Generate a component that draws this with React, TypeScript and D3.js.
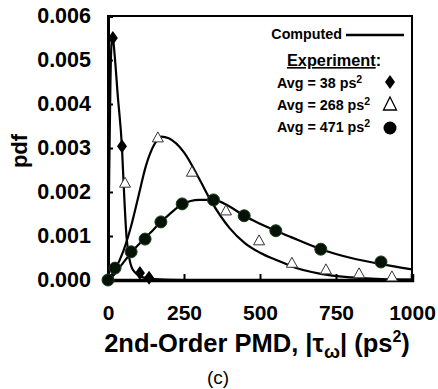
import React, { useEffect, useRef } from 'react'
import * as d3 from 'd3'

// computed curves
const curve38X = [0, 4, 8, 12, 16, 22, 32, 46, 52, 62, 82, 115, 150, 250, 1000]
const curve38Y = [0, 0.0024, 0.0045, 0.0054, 0.0055, 0.0051, 0.0042, 0.003, 0.0021, 0.0009, 0.00023, 0.00006, 0.00002, 0, 0]

const curve268X = [0, 25, 50, 75, 100, 125, 150, 175, 200, 250, 300, 337, 400, 450, 500, 566, 600, 700, 800, 900, 1000]
const curve268Y = [0, 0.00026, 0.00065, 0.0012, 0.0019, 0.0026, 0.00305, 0.00326, 0.00322, 0.0029, 0.0023, 0.00182, 0.00118, 0.00084, 0.00062, 0.00042, 0.00032, 0.00014, 0.00006, 0.00002, 0.00001]

const curve471X = [0, 20, 40, 76, 100, 122, 150, 174, 200, 244, 300, 347, 400, 448, 500, 552, 600, 700, 800, 898, 1000]
const curve471Y = [0, 0.00012, 0.0003, 0.00062, 0.0008, 0.00095, 0.00115, 0.00132, 0.00148, 0.00172, 0.00182, 0.00182, 0.00167, 0.00146, 0.00128, 0.00112, 0.00098, 0.0007, 0.0005, 0.00036, 0.00024]

// experiment points
const exp38X = [16, 46, 105, 135]
const exp38Y = [0.0055, 0.00304, 0.00016, 0.00005]

const exp268X = [56, 164, 276, 388, 497, 605, 717, 826, 934]
const exp268Y = [0.0022, 0.00323, 0.00245, 0.00157, 0.00089, 0.00038, 0.00023, 0.00014, 0.00007]

const exp471X = [0, 23, 76, 122, 174, 244, 347, 448, 552, 700, 898]
const exp471Y = [0, 0.00027, 0.00064, 0.00093, 0.00132, 0.00173, 0.00182, 0.00146, 0.00112, 0.0007, 0.00041]

const xTicks = [0, 250, 500, 750, 1000]
const yTicks = [0, 0.001, 0.002, 0.003, 0.004, 0.005, 0.006]
const legendAvgs = ['38', '268', '471']

const FONT = 'Liberation Sans, Arial, sans-serif'

const zip = (xs: number[], ys: number[]) => xs.map((x, i) => [x, ys[i]] as [number, number])

const Chart = () => {
  const svgRef = useRef<SVGSVGElement>(null)

  useEffect(() => {
    const svg = d3.select(svgRef.current)
    svg.selectAll('*').remove()

    const x = d3.scaleLinear().domain([0, 1000]).range([108, 412])
    const y = d3.scaleLinear().domain([0, 0.006]).range([280, 16])

    // frame
    svg.append('rect')
      .attr('x', 108).attr('y', 16)
      .attr('width', 304).attr('height', 264)
      .attr('fill', 'none').attr('stroke', '#000').attr('stroke-width', 2)

    // y axis
    const yAxis = svg.append('g')
      .attr('transform', 'translate(108,0)')
      .call(d3.axisLeft(y).tickValues(yTicks).tickSize(-5).tickPadding(17).tickFormat(d3.format('.3f')))
    yAxis.select('.domain').attr('stroke-width', 3)
    yAxis.selectAll('.tick line').attr('stroke-width', 2)
    yAxis.selectAll('text')
      .attr('font-family', FONT).attr('font-weight', 'bold').attr('font-size', 21.5).attr('fill', '#000')

    // x axis
    const xAxis = svg.append('g')
      .attr('transform', 'translate(0,280)')
      .call(d3.axisBottom(x).tickValues(xTicks).tickSize(-6).tickPadding(25).tickFormat(d3.format('d')))
    xAxis.select('.domain').attr('stroke-width', 3.5)
    xAxis.selectAll('.tick line').attr('stroke-width', 2)
    xAxis.selectAll('text')
      .attr('font-family', FONT).attr('font-weight', 'bold').attr('font-size', 21).attr('fill', '#000')

    // computed curves
    const line = d3.line<[number, number]>()
      .x((d) => x(d[0]))
      .y((d) => y(d[1]))
      .curve(d3.curveMonotoneX)

    const curves = [zip(curve38X, curve38Y), zip(curve268X, curve268Y), zip(curve471X, curve471Y)]
    svg.append('g')
      .selectAll('path')
      .data(curves)
      .enter()
      .append('path')
      .attr('d', (d) => line(d))
      .attr('fill', 'none')
      .attr('stroke', '#000')
      .attr('stroke-width', 2.2)

    // symbols
    const diamond = (cx: number, cy: number) =>
      `M${cx},${cy - 7}L${cx + 5},${cy}L${cx},${cy + 7}L${cx - 5},${cy}Z`
    const triangle = (cx: number, cy: number) =>
      `M${cx},${cy - 6}L${cx + 5.5},${cy + 4}L${cx - 5.5},${cy + 4}Z`

    svg.append('g')
      .selectAll('circle')
      .data(zip(exp471X, exp471Y))
      .enter()
      .append('circle')
      .attr('cx', (d) => x(d[0]))
      .attr('cy', (d) => y(d[1]))
      .attr('r', 6)
      .attr('fill', '#061206')
      .attr('stroke', '#1c3d1c')
      .attr('stroke-width', 1)

    svg.append('g')
      .selectAll('path')
      .data(zip(exp268X, exp268Y))
      .enter()
      .append('path')
      .attr('d', (d) => triangle(x(d[0]), y(d[1])))
      .attr('fill', '#fff')
      .attr('stroke', '#333')
      .attr('stroke-width', 1)

    svg.append('g')
      .selectAll('path')
      .data(zip(exp38X, exp38Y))
      .enter()
      .append('path')
      .attr('d', (d) => diamond(x(d[0]), y(d[1])))
      .attr('fill', '#000')

    // legend
    const lg = svg.append('g').attr('font-family', FONT).attr('font-weight', 'bold').attr('fill', '#000')
    lg.append('text').attr('x', 342).attr('y', 39).attr('text-anchor', 'end').attr('font-size', 14.3).text('Computed')
    lg.append('line').attr('x1', 346).attr('x2', 404).attr('y1', 35).attr('y2', 35)
      .attr('stroke', '#000').attr('stroke-width', 2.5)
    const ex = lg.append('text').attr('x', 287).attr('y', 66).attr('font-size', 16.3)
    ex.append('tspan').attr('text-decoration', 'underline').text('Experiment')
    ex.append('tspan').text(':')

    legendAvgs.forEach((a, i) => {
      const t = lg.append('text').attr('x', 277).attr('y', 88 + i * 22).attr('font-size', 14.3)
      t.append('tspan').text(`Avg = ${a} ps`)
      t.append('tspan').attr('font-size', 10.5).attr('dy', -5).text('2')
    })
    lg.append('path').attr('d', diamond(390, 82)).attr('fill', '#000')
    lg.append('path').attr('d', 'M390,97L396.5,110L383.5,110Z').attr('fill', '#fff').attr('stroke', '#000').attr('stroke-width', 1.3)
    lg.append('circle').attr('cx', 390).attr('cy', 128).attr('r', 6.5).attr('fill', '#000')

    // axis titles
    svg.append('text')
      .attr('transform', 'translate(27,151) rotate(-90)')
      .attr('text-anchor', 'middle')
      .attr('font-family', FONT).attr('font-weight', 'bold').attr('font-size', 22)
      .text('pdf')

    const xt = svg.append('text')
      .attr('x', 257).attr('y', 352)
      .attr('text-anchor', 'middle')
      .attr('font-family', FONT).attr('font-weight', 'bold').attr('font-size', 25.5)
    xt.append('tspan').text('2nd-Order PMD, |τ')
    xt.append('tspan').attr('font-size', 19).attr('dy', 6).text('ω')
    xt.append('tspan').attr('dy', -6).text('| (ps')
    xt.append('tspan').attr('font-size', 16).attr('dy', -10).text('2')
    xt.append('tspan').attr('dy', 10).text(')')

    svg.append('text')
      .attr('x', 218).attr('y', 384)
      .attr('text-anchor', 'middle')
      .attr('font-family', FONT).attr('font-size', 19)
      .text('(c)')
  }, [])

  return <svg ref={svgRef} width={438} height={389} style={{ background: '#fff' }}></svg>
}

const App = () => {
  return (
    <div style={{ position: 'absolute', left: 0, top: 0 }}>
      <Chart />
    </div>
  )
}

export default App
